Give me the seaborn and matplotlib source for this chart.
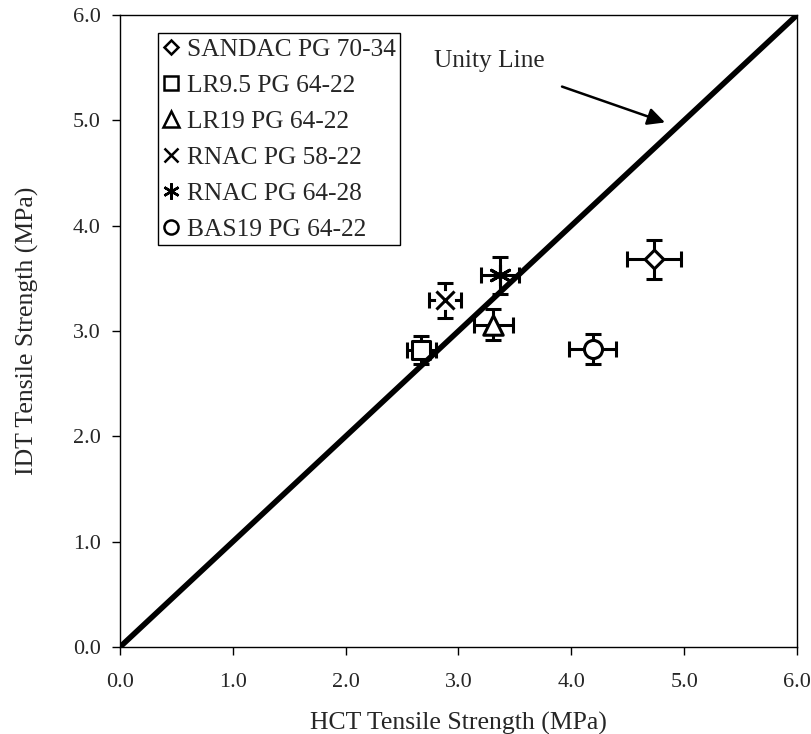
import matplotlib
matplotlib.use("Agg")
import matplotlib.pyplot as plt
import seaborn as sns
import pandas as pd

# Data
mixes = ["SANDAC PG 70-34", "LR9.5 PG 64-22", "LR19 PG 64-22",
         "RNAC PG 58-22", "RNAC PG 64-28", "BAS19 PG 64-22"]
hct = [4.73, 2.67, 3.31, 2.88, 3.37, 4.19]
idt = [3.68, 2.82, 3.06, 3.29, 3.53, 2.83]
hct_err = [0.24, 0.13, 0.17, 0.14, 0.17, 0.21]
idt_err = [0.185, 0.13, 0.15, 0.165, 0.175, 0.14]
unity_x = [0.0, 6.0]
unity_y = [0.0, 6.0]
x_ticks = [0, 1, 2, 3, 4, 5, 6]
y_ticks = [0, 1, 2, 3, 4, 5, 6]

markers = ["D", "s", "^", "x", (6, 2, 0), "o"]
sizes = [9.5, 13, 14, 13, 15, 13]

sns.set_style("ticks")
plt.rcParams["font.family"] = ["Liberation Serif", "DejaVu Serif"]

fig = plt.figure(figsize=(8.12, 7.34), dpi=100)
ax = fig.add_axes([120 / 812, 1 - 647 / 734, 677 / 812, 632 / 734])

df_unity = pd.DataFrame({"x": unity_x, "y": unity_y})
sns.lineplot(data=df_unity, x="x", y="y", ax=ax, color="black", linewidth=4,
             legend=False, zorder=6)

handles = []
for i, name in enumerate(mixes):
    ax.errorbar(hct[i], idt[i], xerr=hct_err[i], yerr=idt_err[i], fmt="none",
                ecolor="black", elinewidth=2.2, capsize=5.5, capthick=2.2, zorder=3)
    m = markers[i]
    filled = m in ("D", "s", "^", "o")
    df = pd.DataFrame({"x": [hct[i]], "y": [idt[i]]})
    if filled:
        sns.scatterplot(data=df, x="x", y="y", ax=ax, marker=m, s=sizes[i] ** 2,
                        facecolor="white", edgecolor="black", linewidth=2.2, zorder=4)
    else:
        if m == "x":
            sns.scatterplot(data=df, x="x", y="y", ax=ax, marker="o",
                            s=(sizes[i] * 1.05) ** 2, color="white",
                            linewidth=0, zorder=3.5)
        sns.scatterplot(data=df, x="x", y="y", ax=ax, marker=m, s=sizes[i] ** 2,
                        color="black", linewidth=2.2, zorder=4)
    h, = ax.plot([], [], linestyle="none", marker=m, markersize=sizes[i] * 0.78,
                 markerfacecolor="white", markeredgecolor="black", color="black",
                 markeredgewidth=1.8, label=name)
    handles.append(h)

ax.set_xlim(0, 6)
ax.set_ylim(0, 6)
ax.set_xticks(x_ticks)
ax.set_yticks(y_ticks)
ax.set_xticklabels([f"{v:.1f}" for v in x_ticks], fontsize=16)
ax.set_yticklabels([f"{v:.1f}" for v in y_ticks], fontsize=16)
ax.tick_params(direction="out", length=6, width=1, color="black")
ax.tick_params(axis="x", pad=13)
ax.tick_params(axis="y", pad=8)
for s in ax.spines.values():
    s.set_visible(True)
    s.set_color("black")
    s.set_linewidth(1)

ax.set_xlabel("HCT Tensile Strength (MPa)", fontsize=18.5, labelpad=14)
ax.set_ylabel("IDT Tensile Strength (MPa)", fontsize=18.5, labelpad=24)

leg = ax.legend(handles=handles, loc="upper left", bbox_to_anchor=(0.056, 0.971),
                fontsize=18.3, frameon=True, fancybox=False, edgecolor="black",
                handlelength=0.7, handletextpad=0.25, labelspacing=0.52,
                borderpad=0.18, borderaxespad=0)
leg.get_frame().set_linewidth(1)
leg.get_frame().set_alpha(1)
leg.set_zorder(10)

ax.annotate("Unity Line", xy=(4.83, 4.98), xytext=(3.275, 5.56),
            fontsize=18.3, ha="center", va="center",
            arrowprops=dict(arrowstyle="-|>", color="black", lw=1.8,
                            mutation_scale=26, shrinkA=24, shrinkB=0))

fig.savefig("out.png", dpi=100)
